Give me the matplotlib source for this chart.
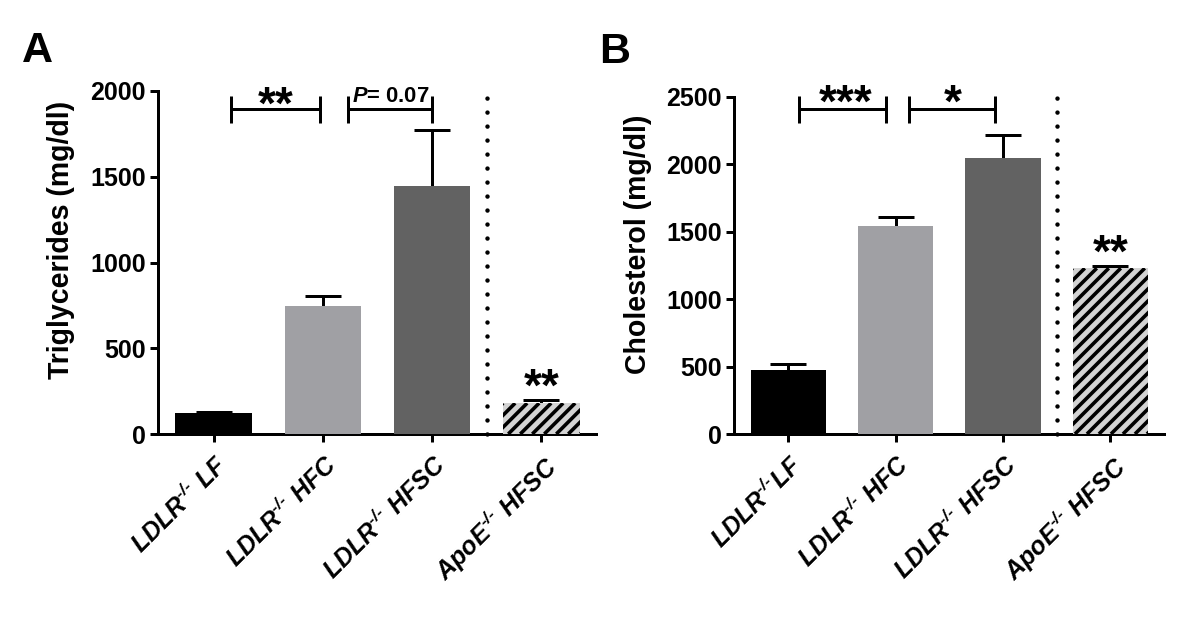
#!/usr/bin/env python3
"""Plasma triglycerides (A) and cholesterol (B) by genotype/diet."""

import matplotlib

matplotlib.use("Agg")
import matplotlib.pyplot as plt
import numpy as np
from matplotlib.collections import LineCollection
from matplotlib.transforms import IdentityTransform

DPI = 85


def pt(px):
    # pixel size -> points at the working dpi
    return px * 72 / DPI


plt.rcParams.update({
    "font.family": "Liberation Sans",
    "mathtext.fontset": "custom",
    "mathtext.rm": "Liberation Sans:bold:italic",
    "mathtext.it": "Liberation Sans:bold:italic",
    "mathtext.bf": "Liberation Sans:bold:italic",
    "mathtext.sf": "Liberation Sans:bold:italic",
})

# ── Data ─────────────────────────────────────────────────────────────────────
labels_a = [r"LDLR$^{\text{-/-}}$ LF", r"LDLR$^{\text{-/-}}$ HFC",
            r"LDLR$^{\text{-/-}}$ HFSC", r"ApoE$^{\text{-/-}}$ HFSC"]
labels_b = [r"LDLR$^{\text{-/-}}$LF", r"LDLR$^{\text{-/-}}$ HFC",
            r"LDLR$^{\text{-/-}}$ HFSC", r"ApoE$^{\text{-/-}}$ HFSC"]

tg_mean = [120, 745, 1445, 180]
tg_sem = [8, 60, 325, 18]

chol_mean = [475, 1545, 2050, 1230]
chol_sem = [45, 65, 170, 18]

# ── Style ────────────────────────────────────────────────────────────────────
FACE = ["#000000", "#a0a0a4", "#626262", "#d3d3d3"]
LW = pt(3)
TICK_FS = pt(25)
STAR_FS = pt(46)


def stripe_fill(ax, bar, spacing=12, width=3.6):
    # Prism-style diagonal stripes, clipped to the bar (pixel spacing)
    x0, y0 = ax.transData.transform((bar.get_x(), bar.get_y()))
    x1, y1 = ax.transData.transform((bar.get_x() + bar.get_width(),
                                     bar.get_y() + bar.get_height()))
    h = y1 - y0
    segs = [[(s, y0), (s + h, y1)]
            for s in np.arange(x0 - h, x1 + spacing, spacing)]
    lc = LineCollection(segs, colors="black", linewidths=pt(width),
                        transform=IdentityTransform(), zorder=3.5)
    ax.add_collection(lc, autolim=False)
    lc.set_clip_path(bar)  # after add_collection, which sets the axes clip


def draw_panel(ax, means, sems, labels, ymax, ystep, ylabel):
    x = np.arange(len(means))
    means = np.asarray(means, float)
    sems = np.asarray(sems, float)
    bars = ax.bar(x, means, width=0.7, color=FACE, linewidth=0, zorder=3)
    # upper-only SEM bars
    ax.vlines(x, means, means + sems, color="black", linewidth=LW, zorder=2)
    ax.plot(x, means + sems, ls="none", marker="_", ms=pt(36), mew=LW,
            color="black", zorder=2)
    # separator
    ax.plot([2.5, 2.5], [0, ymax], color="black", lw=pt(4.5),
            ls=(0, (0.01, 3.1)), dash_capstyle="round", clip_on=False, zorder=1)

    ax.set_xlim(-0.51, 3.5)
    ax.set_ylim(0, ymax)
    ax.set_yticks(np.arange(0, ymax + 1, ystep))
    ax.set_xticks(x)
    ax.set_xticklabels(labels, rotation=45, ha="right", rotation_mode="anchor",
                       fontsize=TICK_FS, fontweight="bold", fontstyle="italic")
    for lab in ax.get_yticklabels():
        lab.set_fontweight("bold")
        lab.set_fontsize(TICK_FS)
    ax.tick_params(axis="both", width=LW, length=pt(8), direction="out")
    ax.tick_params(axis="x", pad=pt(9))
    ax.tick_params(axis="y", pad=pt(4))
    for s in ("top", "right"):
        ax.spines[s].set_visible(False)
    for s in ("left", "bottom"):
        ax.spines[s].set_linewidth(LW)
    ax.set_ylabel(ylabel, fontsize=pt(28.5), fontweight="bold")

    stripe_fill(ax, bars[3])


def bracket(ax, x0, x1, y, lo, hi):
    kw = dict(color="black", lw=LW, clip_on=False, solid_capstyle="butt")
    ax.plot([x0, x1], [y, y], **kw)
    ax.plot([x0, x0], [lo, hi], **kw)
    ax.plot([x1, x1], [lo, hi], **kw)


fig = plt.figure(figsize=(1200 / DPI, 633 / DPI), dpi=DPI)
fig.patch.set_facecolor("white")

ax_a = fig.add_axes([158 / 1200, 1 - 434 / 633, 438 / 1200, 343 / 633])
ax_b = fig.add_axes([733.6 / 1200, 1 - 434 / 633, 430.4 / 1200, 337 / 633])

# ── Panel A ──────────────────────────────────────────────────────────────────
draw_panel(ax_a, tg_mean, tg_sem, labels_a, 2000, 500, "Triglycerides (mg/dl)")
ax_a.yaxis.set_label_coords(-0.19, 0.566)
bracket(ax_a, 0.16, 0.97, 1895, 1815, 1971)
bracket(ax_a, 1.23, 2.0, 1895, 1815, 1971)
ax_a.text(0.565, 1840, "**", ha="center", va="baseline", fontsize=STAR_FS,
          fontweight="bold")
ax_a.text(1.62, 1936, r"$P$= 0.07", ha="center", va="baseline",
          fontsize=pt(22), fontweight="bold")
ax_a.text(3.0, 196, "**", ha="center", va="baseline", fontsize=STAR_FS,
          fontweight="bold")

# ── Panel B ──────────────────────────────────────────────────────────────────
draw_panel(ax_b, chol_mean, chol_sem, labels_b, 2500, 500, "Cholesterol (mg/dl)")
ax_b.yaxis.set_label_coords(-0.19, 0.564)
bracket(ax_b, 0.10, 0.91, 2411, 2310, 2507)
bracket(ax_b, 1.125, 1.93, 2411, 2310, 2507)
ax_b.text(0.53, 2352, "***", ha="center", va="baseline", fontsize=STAR_FS,
          fontweight="bold")
ax_b.text(1.535, 2352, "*", ha="center", va="baseline", fontsize=STAR_FS,
          fontweight="bold")
ax_b.text(3.0, 1243, "**", ha="center", va="baseline", fontsize=STAR_FS,
          fontweight="bold")

# panel letters
fig.text(22 / 1200, 1 - 62 / 633, "A", fontsize=pt(43), fontweight="bold",
         va="baseline")
fig.text(599 / 1200, 1 - 63 / 633, "B", fontsize=pt(43), fontweight="bold",
         va="baseline")

fig.savefig("out.png", dpi=DPI, facecolor="white")
